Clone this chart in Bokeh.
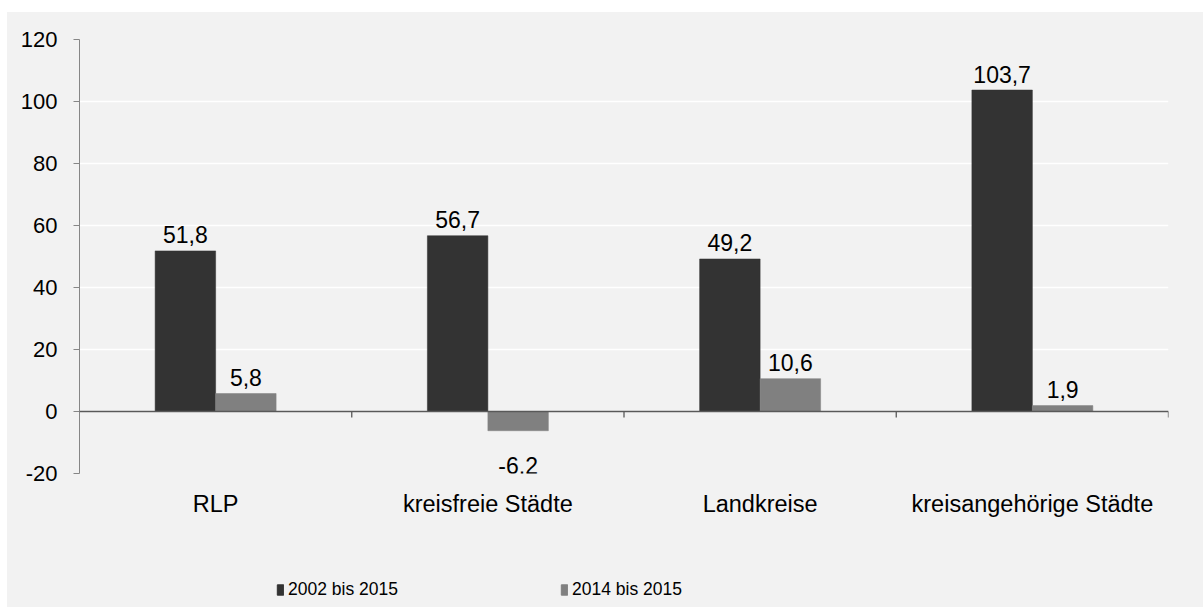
import math
from bokeh.plotting import figure
from bokeh.layouts import column
from bokeh.models import ColumnDataSource, FactorRange, Range1d, Span, Legend, LegendItem, FixedTicker
from bokeh.transform import dodge
from bokeh.core.properties import value
from bokeh.embed import file_html
from bokeh.resources import INLINE

categories = ["RLP", "kreisfreie Städte", "Landkreise", "kreisangehörige Städte"]
series_names = ["2002 bis 2015", "2014 bis 2015"]
values_2002 = [51.8, 56.7, 49.2, 103.7]
values_2014 = [5.8, -6.2, 10.6, 1.9]
y_ticks = [-20, 0, 20, 40, 60, 80, 100, 120]

DARK = "#333333"
LIGHT = "#808080"
AXIS = "#595959"
BG = "#f2f2f2"
FONT = "Liberation Sans"

def fmt(v):
    return f"{v:.1f}".replace(".", ",")

p = figure(width=1196, height=548, x_range=FactorRange(*categories, range_padding=0),
           y_range=Range1d(-20, 120), output_backend="svg", toolbar_location=None,
           min_border_left=72, min_border_right=35, min_border_top=27, min_border_bottom=87)
p.background_fill_color = None
p.border_fill_color = None
p.outline_line_color = None

src1 = ColumnDataSource(dict(cat=categories, val=values_2002))
src2 = ColumnDataSource(dict(cat=categories, val=values_2014))

bw = 0.2222
r1 = p.vbar(x=dodge("cat", -bw / 2, range=p.x_range), top="val", bottom=0, width=bw, source=src1,
            fill_color=DARK, line_color=DARK, line_width=0.5)
r2 = p.vbar(x=dodge("cat", bw / 2, range=p.x_range), top="val", bottom=0, width=bw, source=src2,
            fill_color=LIGHT, line_color=LIGHT, line_width=0.5)

# value labels
for vals, off in ((values_2002, -bw / 2), (values_2014, bw / 2)):
    pos = [i for i, v in enumerate(vals) if v >= 0]
    neg = [i for i, v in enumerate(vals) if v < 0]
    for idx, yo in ((pos, -16), (neg, 35)):
        if not idx:
            continue
        s = ColumnDataSource(dict(cat=[categories[i] for i in idx], val=[vals[i] for i in idx],
                                  lab=[fmt(vals[i]) for i in idx]))
        p.text(x=dodge("cat", off, range=p.x_range), y="val", text="lab", source=s,
               text_align="center", text_baseline="alphabetic", y_offset=yo,
               text_font=value(FONT), text_font_size="23px", text_color="#000000")

# grid
p.xgrid.grid_line_color = None
p.ygrid.grid_line_color = "#ffffff"
p.ygrid.grid_line_width = 1.3
p.ygrid.ticker = FixedTicker(ticks=y_ticks)

# zero line + downward ticks at category boundaries
p.add_layout(Span(location=0, dimension="width", line_color=AXIS, line_width=1.3))
n = len(categories)
tick_src = ColumnDataSource(dict(x=list(range(1, n + 1)), y=[0] * n))
p.ray(x="x", y="y", length=6, length_units="screen", angle=-math.pi / 2, source=tick_src,
      line_color=AXIS, line_width=1.3)

# y axis
p.yaxis.ticker = FixedTicker(ticks=y_ticks)
p.yaxis.major_label_overrides = {t: str(t) for t in y_ticks}
p.yaxis.axis_line_color = "#868686"
p.yaxis.major_tick_line_color = "#868686"
p.yaxis.major_tick_in = 0
p.yaxis.major_tick_out = 6
p.yaxis.minor_tick_line_color = None
p.yaxis.major_label_standoff = 16
p.yaxis.major_label_text_font = FONT
p.yaxis.major_label_text_font_size = "22px"
p.yaxis.major_label_text_color = "#000000"

# x axis (labels only)
p.xaxis.axis_line_color = None
p.xaxis.major_tick_line_color = None
p.xaxis.minor_tick_line_color = None
p.xaxis.major_label_standoff = 11
p.xaxis.major_label_text_font = FONT
p.xaxis.major_label_text_font_size = "23.5px"
p.xaxis.major_label_text_color = "#000000"

# legend strip
q = figure(width=1196, height=47, x_range=Range1d(0, 1), y_range=Range1d(0, 1),
           output_backend="svg", toolbar_location=None, x_axis_location=None, y_axis_location=None,
           min_border_left=0, min_border_right=0, min_border_top=0, min_border_bottom=0)
q.background_fill_color = None
q.border_fill_color = None
q.outline_line_color = None
q.xgrid.grid_line_color = None
q.ygrid.grid_line_color = None
e = ColumnDataSource(dict(x=[-5], top=[-5]))
l1 = q.vbar(x="x", top="top", bottom=-6, width=0.1, source=e, fill_color=DARK, line_color=DARK)
l2 = q.vbar(x="x", top="top", bottom=-6, width=0.1, source=e, fill_color=LIGHT, line_color=LIGHT)
lg = Legend(items=[LegendItem(label=series_names[0], renderers=[l1]),
                   LegendItem(label=series_names[1], renderers=[l2])],
            location=(197, 7), orientation="horizontal",
            glyph_width=8, glyph_height=13, label_height=13, label_standoff=4, label_width=272,
            spacing=0, padding=0, margin=0, border_line_color=None, background_fill_alpha=0,
            label_text_font=FONT, label_text_font_size="17.5px",
            label_text_color="#000000", label_text_baseline="middle")
q.add_layout(lg, "center")

layout = column(p, q, spacing=0)
layout.styles = {"margin-left": "7px", "margin-top": "12px", "background-color": BG}

open("out.html", "w").write(file_html(layout, INLINE))
